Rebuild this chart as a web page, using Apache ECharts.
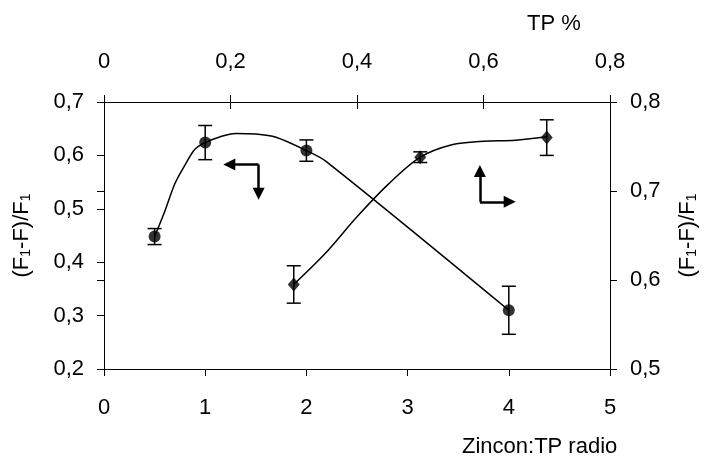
<!DOCTYPE html>
<html>
<head>
<meta charset="utf-8">
<script src="https://cdn.jsdelivr.net/npm/echarts@6/dist/echarts.min.js"></script>
<style>
  html, body { margin: 0; padding: 0; background: #fff; }
  #chart { width: 707px; height: 459px; }
</style>
</head>
<body>
<div id="chart"></div>
<script>
// Zincon:TP ratio series (bottom / left axes)
const ratioX = [0.5, 1, 2, 4];
const ratioY = [0.448, 0.624, 0.609, 0.310];
const ratioErr = [0.015, 0.032, 0.020, 0.045];
// smoothed trend through the ratio series
const ratioFitX = [0.5, 0.6, 0.7, 0.8, 0.9, 1.0, 1.15, 1.3, 1.5, 1.7, 2.0, 2.2, 4.0];
const ratioFitY = [0.448, 0.495, 0.547, 0.582, 0.612, 0.624, 0.635, 0.641, 0.640, 0.634, 0.609, 0.588, 0.310];

// TP % series (top / right axes)
const tpX = [0.3, 0.5, 0.7];
const tpY = [0.595, 0.738, 0.760];
const tpErr = [0.021, 0.006, 0.020];
const tpFitX = [0.30, 0.35, 0.40, 0.45, 0.50, 0.55, 0.60, 0.65, 0.70];
const tpFitY = [0.595, 0.630, 0.671, 0.708, 0.738, 0.752, 0.756, 0.757, 0.761];

// axis tick values
const bottomTicks = [0, 1, 2, 3, 4, 5];
const topTicks = [0, 0.2, 0.4, 0.6, 0.8];
const leftTicks = [0.2, 0.3, 0.4, 0.5, 0.6, 0.7];
const rightTicks = [0.5, 0.6, 0.7, 0.8];

// axis-pointer arrows, in bottom/left data units: [corner, tip]
const arrowLeftH = [[1.528, 0.583], [1.238, 0.583]];
const arrowLeftV = [[1.528, 0.583], [1.528, 0.528]];
const arrowRightV = [[3.714, 0.513], [3.714, 0.571]];
const arrowRightH = [[3.714, 0.513], [4.009, 0.513]];

const FONT = "'Liberation Sans', Arial, sans-serif";
const FS = 22;
const comma = v => (v === 0 ? '0' : (Math.abs(v - Math.round(v)) < 1e-9 ? String(Math.round(v)) : v.toFixed(1).replace('.', ',')));
const range = t => ({ min: t[0], max: t[t.length - 1], interval: +(t[1] - t[0]).toFixed(6) });
const zip = (a, b, c) => a.map((v, i) => c ? [v, b[i], c[i]] : [v, b[i]]);

const labelStyle = { color: '#000', fontSize: FS, fontFamily: FONT };
const lineStyle = { color: '#000', width: 1 };

function errRender(params, api) {
  const x = api.value(0), y = api.value(1), e = api.value(2);
  const hi = api.coord([x, y + e]);
  const lo = api.coord([x, y - e]);
  const w = 7;
  const st = { stroke: '#000', lineWidth: 1.5 };
  return {
    type: 'group',
    children: [
      { type: 'line', shape: { x1: hi[0], y1: hi[1], x2: lo[0], y2: lo[1] }, style: st },
      { type: 'line', shape: { x1: hi[0] - w, y1: hi[1], x2: hi[0] + w, y2: hi[1] }, style: st },
      { type: 'line', shape: { x1: lo[0] - w, y1: lo[1], x2: lo[0] + w, y2: lo[1] }, style: st }
    ]
  };
}

const yName = '(F{s|1}-F)/F{s|1}';
const yNameStyle = {
  color: '#000', fontSize: FS, fontFamily: FONT,
  rich: { s: { fontSize: 14, fontFamily: FONT, color: '#000', verticalAlign: 'bottom', padding: [8, 0, 0, 0] } }
};

const chart = echarts.init(document.getElementById('chart'), null, { renderer: 'canvas' });
chart.setOption({
  animation: false,
  backgroundColor: '#fff',
  textStyle: { fontFamily: FONT },
  title: [
    { text: 'TP %', left: 527, top: 13, padding: 0, textStyle: { fontSize: FS, fontWeight: 'normal', fontFamily: FONT, color: '#000' } },
    { text: 'Zincon:TP radio', left: 462, top: 436, padding: 0, textStyle: { fontSize: FS, fontWeight: 'normal', fontFamily: FONT, color: '#000' } }
  ],
  grid: { left: 104, right: 92, top: 102, bottom: 90, containLabel: false },
  xAxis: [
    Object.assign({
      type: 'value', position: 'bottom',
      axisLine: { show: true, onZero: false, lineStyle },
      axisTick: { show: true, length: 7, lineStyle },
      axisLabel: Object.assign({ margin: 28, formatter: comma }, labelStyle),
      splitLine: { show: false }
    }, range(bottomTicks)),
    Object.assign({
      type: 'value', position: 'top',
      axisLine: { show: true, onZero: false, lineStyle },
      axisTick: { show: true, length: 7, lineStyle },
      axisLabel: Object.assign({ margin: 29, formatter: comma }, labelStyle),
      splitLine: { show: false }
    }, range(topTicks)),
    Object.assign({
      type: 'value', position: 'top',
      axisLine: { show: false },
      axisTick: { show: true, inside: true, length: 7, lineStyle },
      axisLabel: { show: false },
      splitLine: { show: false }
    }, range(topTicks))
  ],
  yAxis: [
    Object.assign({
      type: 'value', position: 'left',
      name: yName, nameLocation: 'middle', nameGap: 71, nameRotate: 90, nameTextStyle: yNameStyle,
      axisLine: { show: true, onZero: false, lineStyle },
      axisTick: { show: true, length: 7, lineStyle },
      axisLabel: Object.assign({ margin: 20, formatter: comma }, labelStyle),
      splitLine: { show: false }
    }, range(leftTicks)),
    Object.assign({
      type: 'value', position: 'right',
      name: yName, nameLocation: 'middle', nameGap: 67, nameRotate: 90, nameTextStyle: yNameStyle,
      axisLine: { show: true, onZero: false, lineStyle },
      axisTick: { show: true, length: 7, lineStyle },
      axisLabel: Object.assign({ margin: 20, formatter: comma }, labelStyle),
      splitLine: { show: false }
    }, range(rightTicks)),
    Object.assign({
      type: 'value', position: 'right',
      axisLine: { show: false },
      axisTick: { show: true, inside: true, length: 7, lineStyle },
      axisLabel: { show: false },
      splitLine: { show: false }
    }, range(rightTicks))
  ],
  series: [
    {
      name: 'ratio trend', type: 'line', xAxisIndex: 0, yAxisIndex: 0,
      data: zip(ratioFitX, ratioFitY), smooth: 0.3, showSymbol: false, symbol: 'none',
      lineStyle: { color: '#000', width: 1.5 }, z: 2
    },
    {
      name: 'ratio error', type: 'custom', xAxisIndex: 0, yAxisIndex: 0,
      data: zip(ratioX, ratioY, ratioErr), encode: { x: 0, y: 1 }, renderItem: errRender, z: 3
    },
    {
      name: 'ratio', type: 'scatter', xAxisIndex: 0, yAxisIndex: 0,
      data: zip(ratioX, ratioY), symbol: 'circle', symbolSize: 12,
      itemStyle: { color: '#000' }, z: 4
    },
    {
      name: 'TP trend', type: 'line', xAxisIndex: 1, yAxisIndex: 1,
      data: zip(tpFitX, tpFitY), smooth: 0.3, showSymbol: false, symbol: 'none',
      lineStyle: { color: '#000', width: 1.5 }, z: 2
    },
    {
      name: 'TP error', type: 'custom', xAxisIndex: 1, yAxisIndex: 1,
      data: zip(tpX, tpY, tpErr), encode: { x: 0, y: 1 }, renderItem: errRender, z: 3
    },
    {
      name: 'TP', type: 'scatter', xAxisIndex: 1, yAxisIndex: 1,
      data: zip(tpX, tpY), symbol: 'diamond', symbolSize: [12, 14],
      itemStyle: { color: '#000' }, z: 4
    },
    {
      name: 'arrows', type: 'lines', coordinateSystem: 'cartesian2d', xAxisIndex: 0, yAxisIndex: 0,
      symbol: ['none', 'triangle'], symbolSize: 12,
      lineStyle: { color: '#000', width: 2.5, opacity: 1, curveness: 0 },
      itemStyle: { color: '#000' },
      data: [arrowLeftH, arrowLeftV, arrowRightV, arrowRightH].map(c => ({ coords: c })),
      z: 5
    }
  ]
});
</script>
</body>
</html>
